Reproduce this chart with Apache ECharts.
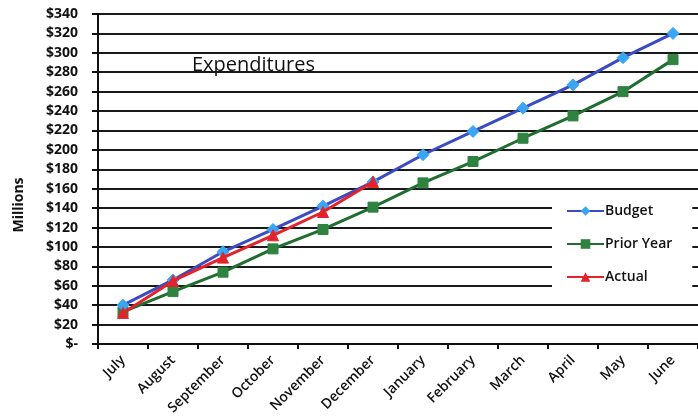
<!DOCTYPE html>
<html>
<head>
<meta charset="utf-8">
<script src="https://cdn.jsdelivr.net/npm/echarts@6/dist/echarts.min.js"></script>
<style>
html,body{margin:0;padding:0;background:#fff;}
#chart{width:698px;height:420px;}
</style>
</head>
<body>
<div id="chart"></div>
<script>
var months = ['July','August','September','October','November','December','January','February','March','April','May','June'];
var budget = [40, 66, 95, 118, 142, 167, 195, 219, 243, 267, 295, 320];
var priorYear = [33, 54, 74, 98, 118, 141, 166, 188, 212, 235, 260, 293];
var actual = [32, 65, 89, 112, 136, 167];
var yTicks = [0, 20, 40, 60, 80, 100, 120, 140, 160, 180, 200, 220, 240, 260, 280, 300, 320, 340];

var FONT = '"Open Sans", "Liberation Sans", sans-serif';
var chart = echarts.init(document.getElementById('chart'));
chart.setOption({
  animation: false,
  backgroundColor: '#fff',
  title: {
    text: 'Expenditures',
    left: 187, top: 50,
    textStyle: {fontFamily: FONT, fontSize: 20, fontWeight: 'normal', color: '#111'}
  },
  legend: {
    orient: 'vertical',
    left: 552, top: 198,
    width: 136,
    padding: [6, 20, 10, 14],
    backgroundColor: '#fff',
    itemWidth: 37, itemHeight: 12,
    itemGap: 19,
    textStyle: {fontFamily: FONT, fontSize: 14, fontWeight: 600, color: '#111', padding: [0, 0, 0, -4]},
    data: ['Budget', 'Prior Year', 'Actual']
  },
  grid: {left: 98, right: -8, top: 14, bottom: 76, containLabel: false},
  xAxis: {
    type: 'category',
    data: months,
    boundaryGap: true,
    axisLine: {lineStyle: {color: '#111', width: 2}},
    axisTick: {show: true, length: 5, lineStyle: {color: '#111', width: 2}},
    axisLabel: {rotate: 45, margin: 14, interval: 0, fontFamily: FONT, fontSize: 14, fontWeight: 600, color: '#111'},
    splitLine: {show: false}
  },
  yAxis: {
    type: 'value',
    min: yTicks[0], max: yTicks[yTicks.length - 1], interval: 20,
    name: 'Millions',
    nameLocation: 'middle',
    nameGap: 72,
    nameTextStyle: {fontFamily: FONT, fontSize: 14, fontWeight: 700, color: '#111', padding: [0, 52, 0, 0]},
    axisLine: {show: true, lineStyle: {color: '#111', width: 2}},
    axisTick: {show: true, length: 6, lineStyle: {color: '#111', width: 2}},
    axisLabel: {
      margin: 20, fontFamily: FONT, fontSize: 14, fontWeight: 700, color: '#111',
      formatter: function (v) { return v === 0 ? '$-' : '$' + v; }
    },
    splitLine: {show: true, lineStyle: {color: '#1a1a1a', width: 2}}
  },
  series: [
    {
      name: 'Budget', type: 'line', data: budget,
      symbol: 'diamond', symbolSize: 12,
      lineStyle: {color: '#3a4cc4', width: 3},
      itemStyle: {color: '#3aa6f2', borderColor: '#3aa6f2'},
      z: 3
    },
    {
      name: 'Prior Year', type: 'line', data: priorYear,
      symbol: 'rect', symbolSize: 10,
      lineStyle: {color: '#1f6e30', width: 3},
      itemStyle: {color: '#2f8240', borderColor: '#2f8240'},
      z: 2
    },
    {
      name: 'Actual', type: 'line', data: actual,
      symbol: 'triangle', symbolSize: 11,
      lineStyle: {color: '#e3222b', width: 3},
      itemStyle: {color: '#e3222b', borderColor: '#e3222b'},
      z: 4
    }
  ]
});
</script>
</body>
</html>
